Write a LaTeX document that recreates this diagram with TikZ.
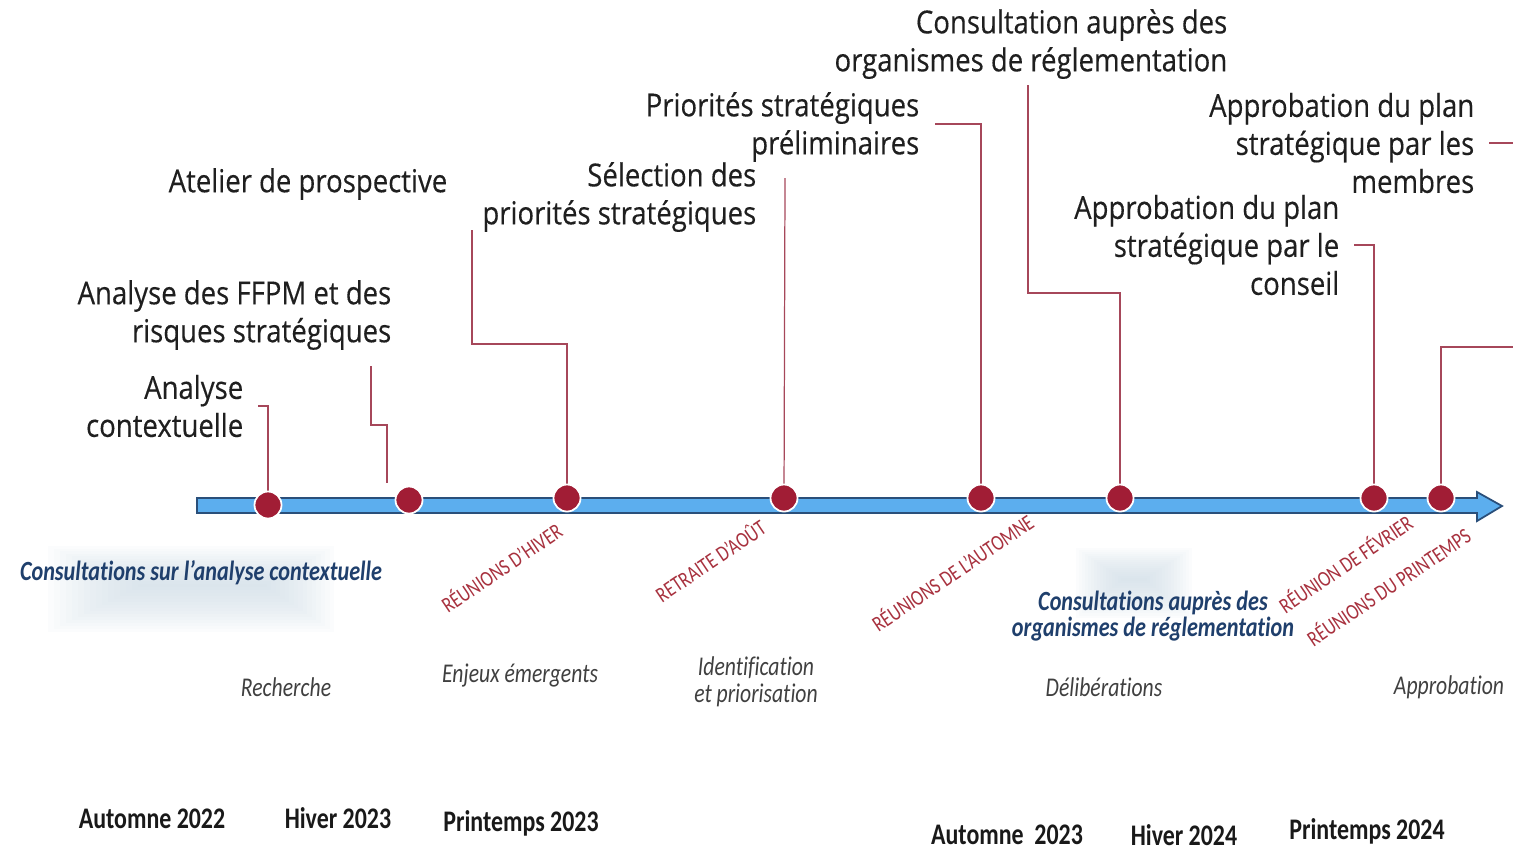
\documentclass[tikz,border=0pt]{standalone}
\usepackage{fontspec}
\newfontfamily\lblfont[FakeStretch=0.87,FakeBold=0.3]{Open Sans}
\newfontfamily\calfont[FakeStretch=0.8,Ligatures=NoCommon]{Carlito}
\definecolor{barblue}{HTML}{5CAEEE}
\definecolor{barline}{HTML}{2A4F7A}
\definecolor{dotred}{HTML}{A11D35}
\definecolor{linkred}{HTML}{A6475A}
\definecolor{meetred}{HTML}{A8323F}
\definecolor{consblue}{HTML}{1F3F6C}
\definecolor{phasegray}{HTML}{404040}
\definecolor{glowblue}{HTML}{C9D8E3}
\tikzset{
  evt/.style={anchor=east, align=right, inner sep=4pt, text=black!88,
    font=\lblfont\fontsize{9}{10.8}\selectfont},
  link/.style={linkred, line width=0.35pt},
  dot/.style={circle, fill=dotred, draw=white, line width=0.5pt, minimum size=0.27cm, inner sep=0pt},
  meet/.style={rotate=34, text=meetred, inner sep=0pt, font=\calfont\fontsize{6.3}{7}\selectfont},
  cons/.style={align=center, text=consblue, inner sep=0pt,
    font=\calfont\bfseries\itshape\fontsize{7.9}{7.4}\selectfont},
  phase/.style={align=center, text=phasegray, inner sep=0pt,
    font=\calfont\itshape\fontsize{7.7}{7.6}\selectfont},
  season/.style={inner sep=0pt, text=black!90, font=\calfont\bfseries\fontsize{8.5}{9}\selectfont}
}
\begin{document}
\begin{tikzpicture}[x=0.01cm, y=-0.01cm]
\useasboundingbox (0,0) rectangle (1513,848);
\clip (0,0) rectangle (1513,848);
% soft backgrounds
\foreach \i in {0,...,15}{
  \fill[glowblue, opacity=0.065] (48+\i*6,546+\i*2.5) rectangle (334-\i*4.5,632-\i*3);
  \fill[glowblue, opacity=0.065] (1076+\i*3,548+\i*2) rectangle (1192-\i*3,618-\i*2.5);
}
% timeline arrow
\draw[barline, fill=barblue, line width=0.5pt] (197,498) -- (1477,498) -- (1477,492)
  -- (1502,506) -- (1477,521) -- (1477,513) -- (197,513) -- cycle;
% events above the line
\node[evt] (a1) at (258,406) {Analyse\\contextuelle};
\node[evt] (a2) at (406,315) {Analyse des FFPM et des\\risques stratégiques};
\node[evt] (a3) at (462,184) {Atelier de prospective};
\node[evt] (a4) at (771,197) {Sélection des\\priorités stratégiques};
\node[evt] (a5) at (934,127) {Priorités stratégiques\\préliminaires};
\node[evt] (a6) at (1242,44) {Consultation auprès des\\organismes de réglementation};
\node[evt] (a7) at (1354,245) {Approbation du plan\\stratégique par le\\conseil};
\node[evt] (a8) at (1489,143) {Approbation du plan\\stratégique par les\\membres};
% loose ends of the leaders
\coordinate (k2) at (371,366);
\coordinate (e2) at (387,483);
\coordinate (k3) at (472,230);
\coordinate (k4) at (785,178);
\coordinate (k5) at (935,124);
\coordinate (k6) at (1028,85);
\coordinate (k8a) at (1530,143);
\coordinate (k8b) at (1530,347);
% dots
\foreach \n/\x/\y in {1/268/505, 2/409/500, 3/567/498, 4/784/498, 5/981/498, 6/1120/498, 7/1374/498, 8/1441/498}
  \coordinate (p\n) at (\x,\y);
\draw[link] (a1.east) -| (p1);
\draw[link] (k2) |- ++(16,59) -- (e2);
\draw[link] (k3) |- ++(95,114) -- (p3);
\draw[link] (k4) -- (p4);
\draw[link] (k5) -| (p5);
\draw[link] (k6) |- ++(92,208) -- (p6);
\draw[link] (a7.east) -| (p7);
\draw[link] (a8.east) -- (k8a);
\draw[link] (k8b) -| (p8);
\foreach \n in {1,...,8}
  \node[dot] (d\n) at (p\n) {};
% meetings
\node[meet] (r1) at (501,567) {RÉUNIONS D’HIVER};
\node[meet] (r2) at (710,560) {RETRAITE D’AOÛT};
\node[meet] (r3) at (952,572) {RÉUNIONS DE L’AUTOMNE};
\node[meet] (r4) at (1345,563) {RÉUNION DE FÉVRIER};
\node[meet] (r5) at (1388,586) {RÉUNIONS DU PRINTEMPS};
% consultations
\node[cons] (b1) at (201,573) {Consultations sur l’analyse contextuelle};
\node[cons] (b2) at (1153,616) {Consultations auprès des\\organismes de réglementation};
% phases
\node[phase] (f1) at (286,687) {Recherche};
\node[phase] (f2) at (520,675) {Enjeux émergents};
\node[phase] (f3) at (756,682) {Identification\\et priorisation};
\node[phase] (f4) at (1104,687) {Délibérations};
\node[phase] (f5) at (1449,687) {Approbation};
% seasons
\node[season] (s1) at (152,819) {Automne 2022};
\node[season] (s2) at (338,818) {Hiver 2023};
\node[season] (s3) at (521,823) {Printemps 2023};
\node[season] (s4) at (1007,835) {Automne\ \ 2023};
\node[season] (s5) at (1184,835) {Hiver 2024};
\node[season] (s6) at (1367,831) {Printemps 2024};
\end{tikzpicture}
\end{document}
